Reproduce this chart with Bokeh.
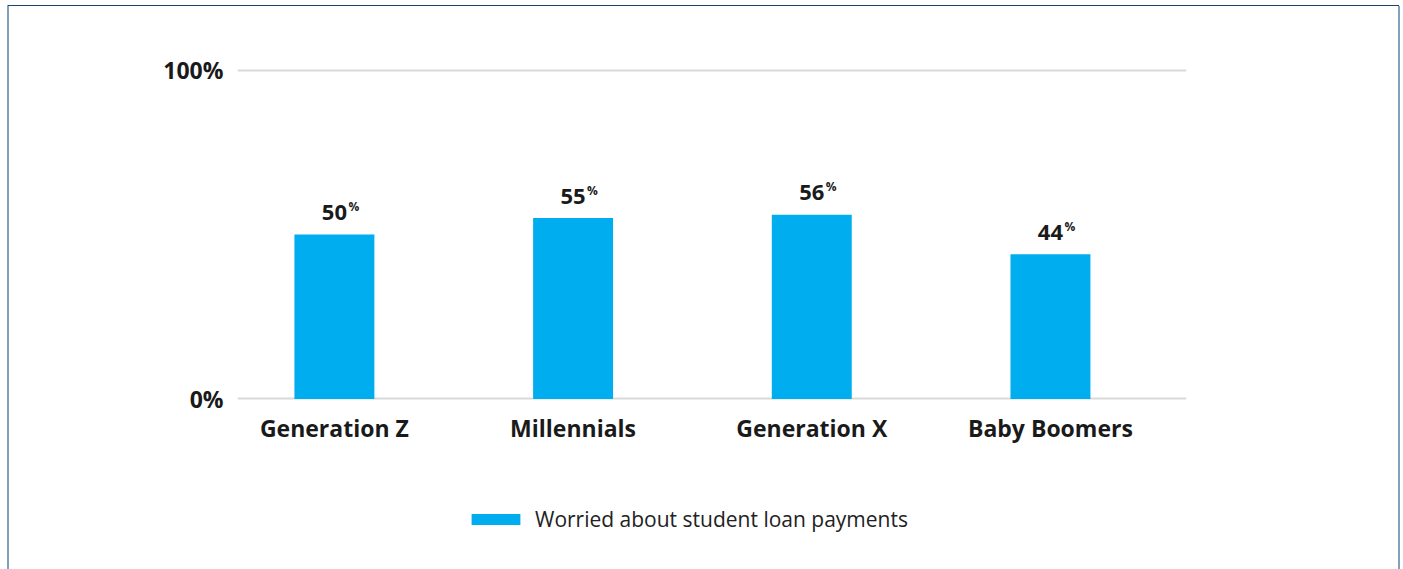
from bokeh.plotting import figure
from bokeh.layouts import column
from bokeh.models import ColumnDataSource, Range1d, FixedTicker, Legend, LegendItem
from bokeh.core.properties import value
from bokeh.embed import file_html
from bokeh.resources import INLINE

categories = ["Generation Z", "Millennials", "Generation X", "Baby Boomers"]
values = [50, 55, 56, 44]
series_name = "Worried about student loan payments"
y_ticks = [0, 100]
y_tick_labels = ["0%", "100%"]

BAR = "#00aeef"
TXT = "#1a1a1a"
FONT = "Open Sans"

xs = list(range(len(categories)))
src = ColumnDataSource(dict(x=xs, top=values, num=[str(v) for v in values],
                            pct=["%"] * len(values)))

p = figure(width=1403, height=470, output_backend="svg", toolbar_location=None,
           x_range=Range1d(-0.406, 3.57), y_range=Range1d(-2, 102),
           min_border_left=237, min_border_right=217, min_border_top=63,
           min_border_bottom=65)
p.outline_line_color = None
p.background_fill_alpha = 0
p.border_fill_alpha = 0

bars = p.vbar(x="x", top="top", bottom=0, width=0.335, source=src,
              fill_color=BAR, line_color=None)

p.text(x="x", y="top", text="num", source=src, text_align="center",
       text_baseline="alphabetic", y_offset=-22, text_font=value(FONT),
       text_font_style="bold", text_font_size="22px", text_color=TXT)
p.text(x="x", y="top", text="pct", source=src, text_align="left",
       text_baseline="alphabetic", x_offset=14, y_offset=-28, text_font=value(FONT),
       text_font_style="bold", text_font_size="12px", text_color=TXT)

# x axis
p.xaxis.ticker = FixedTicker(ticks=xs)
p.xaxis.major_label_overrides = {i: c for i, c in zip(xs, categories)}
p.xaxis.axis_line_color = None
p.xaxis.major_tick_line_color = None
p.xaxis.minor_tick_line_color = None
p.xaxis.major_label_text_font = FONT
p.xaxis.major_label_text_font_style = "bold"
p.xaxis.major_label_text_font_size = "23px"
p.xaxis.major_label_text_color = TXT
p.xaxis.major_label_standoff = 0
p.xgrid.grid_line_color = None

# y axis
p.yaxis.ticker = FixedTicker(ticks=y_ticks)
p.yaxis.major_label_overrides = {t: l for t, l in zip(y_ticks, y_tick_labels)}
p.yaxis.axis_line_color = None
p.yaxis.major_tick_line_color = None
p.yaxis.minor_tick_line_color = None
p.yaxis.major_label_text_font = FONT
p.yaxis.major_label_text_font_style = "bold"
p.yaxis.major_label_text_font_size = "23px"
p.yaxis.major_label_text_color = TXT
p.yaxis.major_label_standoff = 8
p.ygrid.ticker = FixedTicker(ticks=y_ticks)
p.ygrid.grid_line_color = "#d9d9d9"
p.ygrid.grid_line_width = 2
p.ygrid.level = "underlay"

# legend strip (separate figure so the legend is not clipped by the chart frame)
lg = figure(width=1403, height=99, output_backend="svg", toolbar_location=None,
            x_range=Range1d(-0.406, 3.57), y_range=Range1d(1000, 1001),
            min_border=0, x_axis_location=None, y_axis_location=None)
lg.outline_line_color = None
lg.background_fill_alpha = 0
lg.border_fill_alpha = 0
lg.grid.grid_line_color = None
lbars = lg.vbar(x="x", top="top", bottom=0, width=0.335, source=src,
                fill_color=BAR, line_color=None)
legend = Legend(items=[LegendItem(label=series_name, renderers=[lbars])],
                location=(228, 36), orientation="horizontal",
                glyph_width=61, glyph_height=14, label_standoff=9,
                padding=0, margin=0, border_line_color=None,
                background_fill_alpha=0, label_text_font=FONT,
                label_text_font_size="21px", label_text_color="#222222",
                label_height=20)
lg.add_layout(legend, "center")

layout = column(p, lg, spacing=0)
layout.styles = {
    "background": (
        "linear-gradient(#17456b,#17456b) 8px 5px / 1391px 1px no-repeat, "
        "linear-gradient(#7fa3bf,#7fa3bf) 7px 5px / 2px 564px no-repeat, "
        "linear-gradient(#7fa3bf,#7fa3bf) 1398px 6px / 2px 563px no-repeat, "
        "#ffffff"
    )
}

open("out.html", "w").write(file_html(layout, INLINE))
